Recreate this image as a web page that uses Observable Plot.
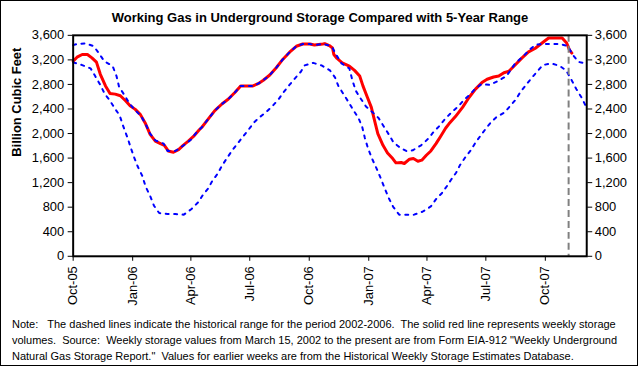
<!DOCTYPE html>
<html>
<head>
<meta charset="utf-8">
<script src="https://cdn.jsdelivr.net/npm/d3@7"></script>
<script src="https://cdn.jsdelivr.net/npm/@observablehq/plot@0.6"></script>
<style>
  html, body { margin: 0; padding: 0; background: #fff; }
  #wrap { position: relative; width: 638px; height: 366px; box-sizing: border-box; border: 1px solid #000; background: #fff; overflow: hidden; font-family: "Liberation Sans", Arial, sans-serif; }
  #title { position: absolute; left: 0; top: 9px; width: 638px; text-align: center; font-weight: bold; font-size: 13px; color: #000; }
  #chart { position: absolute; left: -1px; top: -1px; }
  #note { position: absolute; left: 11px; top: 315px; font-size: 11px; line-height: 16px; color: #000; white-space: pre; }
</style>
</head>
<body>
<div id="wrap">
  <div id="chart"></div>
  <div id="title">Working Gas in Underground Storage Compared with 5-Year Range</div>
  <div id="note"></div>
</div>
<script>
// ---- Data ----
const xTickLabels = ["Oct-05","Jan-06","Apr-06","Jul-06","Oct-06","Jan-07","Apr-07","Jul-07","Oct-07"];
const xTickDates = ["2005-10-01","2006-01-01","2006-04-01","2006-07-01","2006-10-01","2007-01-01","2007-04-01","2007-07-01","2007-10-01"];
const yTicks = [0,400,800,1200,1600,2000,2400,2800,3200,3600];
const xDomain = ["2005-10-01","2007-12-04"];
const currentWeekMarker = ["2007-11-06"];

const storageDates = ["2005-10-01","2005-10-07","2005-10-15","2005-10-23","2005-10-30","2005-11-06","2005-11-12","2005-11-20","2005-11-27","2005-12-05","2005-12-13","2005-12-21","2005-12-28","2006-01-05","2006-01-13","2006-01-21","2006-01-28","2006-02-05","2006-02-13","2006-02-19","2006-02-25","2006-03-05","2006-03-13","2006-03-20","2006-03-28","2006-04-05","2006-04-14","2006-04-18","2006-04-28","2006-05-08","2006-05-19","2006-05-29","2006-06-08","2006-06-17","2006-06-26","2006-07-06","2006-07-14","2006-07-22","2006-08-01","2006-08-11","2006-08-21","2006-09-01","2006-09-11","2006-09-21","2006-10-02","2006-10-09","2006-10-22","2006-10-25","2006-11-01","2006-11-06","2006-11-08","2006-11-13","2006-11-21","2006-12-02","2006-12-10","2006-12-18","2006-12-23","2006-12-30","2007-01-05","2007-01-10","2007-01-15","2007-01-23","2007-01-30","2007-02-07","2007-02-12","2007-02-20","2007-02-25","2007-03-05","2007-03-11","2007-03-18","2007-03-24","2007-03-31","2007-04-07","2007-04-15","2007-04-22","2007-04-30","2007-05-05","2007-05-15","2007-05-26","2007-06-05","2007-06-15","2007-06-25","2007-07-03","2007-07-13","2007-07-21","2007-07-29","2007-08-06","2007-08-16","2007-08-26","2007-09-05","2007-09-15","2007-09-26","2007-10-06","2007-10-16","2007-10-27","2007-11-03","2007-11-07","2007-11-11"];
const storageValues = [3180,3244,3288,3288,3233,3163,2965,2776,2652,2642,2615,2534,2453,2394,2308,2158,1985,1877,1835,1808,1716,1695,1738,1808,1877,1953,2061,2103,2239,2373,2481,2562,2668,2776,2776,2776,2813,2868,2954,3072,3207,3330,3422,3459,3459,3443,3459,3465,3433,3395,3288,3223,3152,3099,3029,2937,2776,2587,2426,2211,1997,1808,1684,1593,1522,1528,1512,1582,1593,1549,1566,1646,1716,1835,1953,2090,2158,2276,2426,2587,2723,2830,2884,2921,2937,2991,3018,3126,3233,3330,3385,3475,3556,3556,3556,3475,3368,3310];

const maxDates = ["2005-10-01","2005-10-07","2005-10-20","2005-11-02","2005-11-11","2005-11-18","2005-12-01","2005-12-07","2005-12-11","2005-12-19","2005-12-26","2006-01-03","2006-01-14","2006-01-22","2006-01-28","2006-02-05","2006-02-18","2006-02-24","2006-03-08","2006-03-21","2006-04-01","2006-04-10","2006-04-18","2006-04-28","2006-05-08","2006-05-19","2006-05-29","2006-06-08","2006-06-17","2006-06-26","2006-07-06","2006-07-14","2006-07-22","2006-08-01","2006-08-11","2006-08-21","2006-09-01","2006-09-11","2006-09-21","2006-10-02","2006-10-09","2006-10-22","2006-11-01","2006-11-06","2006-11-13","2006-11-20","2006-12-02","2006-12-07","2006-12-12","2006-12-20","2006-12-28","2007-01-07","2007-01-16","2007-01-25","2007-02-01","2007-02-08","2007-02-17","2007-02-28","2007-03-10","2007-03-23","2007-04-03","2007-04-11","2007-04-21","2007-04-29","2007-05-09","2007-05-19","2007-05-28","2007-06-06","2007-06-14","2007-06-24","2007-07-07","2007-07-20","2007-08-02","2007-08-15","2007-08-28","2007-09-07","2007-09-16","2007-09-28","2007-10-11","2007-10-24","2007-11-05","2007-11-12","2007-11-21","2007-11-28"];
const maxValues = [3440,3459,3470,3422,3288,3180,3099,2937,2760,2631,2507,2400,2287,2131,1997,1888,1835,1716,1716,1808,1900,2023,2103,2239,2373,2481,2562,2668,2776,2776,2776,2813,2868,2954,3072,3207,3330,3422,3459,3459,3443,3459,3433,3395,3261,3142,3060,2857,2696,2562,2437,2345,2255,2103,1985,1861,1780,1716,1727,1808,1916,2023,2131,2239,2345,2437,2545,2631,2723,2804,2792,2857,2937,3136,3261,3368,3449,3459,3459,3459,3422,3288,3168,3150];

const minDates = ["2005-10-01","2005-10-15","2005-10-28","2005-11-04","2005-11-12","2005-11-19","2005-11-27","2005-12-04","2005-12-12","2005-12-17","2005-12-24","2005-12-29","2006-01-03","2006-01-09","2006-01-16","2006-01-21","2006-01-28","2006-02-03","2006-02-11","2006-02-24","2006-03-08","2006-03-21","2006-04-02","2006-04-12","2006-04-19","2006-04-28","2006-05-04","2006-05-12","2006-05-19","2006-05-27","2006-06-04","2006-06-12","2006-06-20","2006-06-29","2006-07-08","2006-07-16","2006-07-26","2006-08-06","2006-08-14","2006-08-22","2006-08-31","2006-09-09","2006-09-18","2006-09-24","2006-10-07","2006-10-20","2006-11-02","2006-11-10","2006-11-15","2006-11-23","2006-12-01","2006-12-08","2006-12-16","2006-12-22","2006-12-26","2006-12-31","2007-01-06","2007-01-13","2007-01-20","2007-01-26","2007-02-01","2007-02-08","2007-02-17","2007-02-28","2007-03-12","2007-03-25","2007-04-07","2007-04-15","2007-04-24","2007-05-02","2007-05-08","2007-05-16","2007-05-22","2007-05-30","2007-06-07","2007-06-14","2007-06-22","2007-06-30","2007-07-09","2007-07-17","2007-07-30","2007-08-08","2007-08-16","2007-08-23","2007-09-02","2007-09-11","2007-09-20","2007-09-27","2007-10-10","2007-10-23","2007-11-02","2007-11-10","2007-11-18","2007-11-26","2007-12-03"];
const minValues = [3160,3115,3061,2937,2792,2642,2534,2416,2292,2131,1932,1771,1619,1458,1307,1135,985,823,705,689,689,678,770,877,990,1109,1227,1340,1474,1603,1727,1835,1942,2061,2184,2264,2345,2458,2550,2668,2787,2900,3007,3110,3152,3110,3029,2910,2776,2642,2507,2384,2255,2103,1926,1754,1593,1432,1259,1098,947,802,678,678,678,726,812,931,1028,1146,1243,1361,1485,1609,1716,1835,1953,2066,2184,2264,2345,2453,2550,2668,2804,2921,3029,3115,3142,3104,3029,2884,2723,2587,2437];

const yLabel = "Billion Cubic Feet";
const noteLines = [
  "Note:   The dashed lines indicate the historical range for the period 2002-2006.  The solid red line represents weekly storage",
  "volumes.  Source:  Weekly storage values from March 15, 2002 to the present are from Form EIA-912 \"Weekly Underground",
  "Natural Gas Storage Report.\"  Values for earlier weeks are from the Historical Weekly Storage Estimates Database."
];

// ---- Build tables ----
const parse = d3.utcParse("%Y-%m-%d");
const toRows = (dates, values) => dates.map((d, i) => ({date: parse(d), value: values[i]}));
const storage = toRows(storageDates, storageValues);
const maxRange = toRows(maxDates, maxValues);
const minRange = toRows(minDates, minValues);
const tickDates = xTickDates.map(parse);
const tickLabelOf = new Map(tickDates.map((d, i) => [+d, xTickLabels[i]]));

const chart = Plot.plot({
  width: 640,
  height: 312,
  marginTop: 35,
  marginBottom: 55,
  marginLeft: 73,
  marginRight: 51,
  style: {fontFamily: "'Liberation Sans', Arial, sans-serif", fontSize: "13px", color: "#000", background: "transparent"},
  x: {type: "utc", domain: xDomain.map(parse)},
  y: {domain: [0, 3600]},
  marks: [
    Plot.line(storage, {x: "date", y: "value", stroke: "#ff0000", strokeWidth: 3, curve: "linear"}),
    Plot.line(maxRange, {x: "date", y: "value", stroke: "#0000ff", strokeWidth: 2, strokeDasharray: "3,5.5"}),
    Plot.line(minRange, {x: "date", y: "value", stroke: "#0000ff", strokeWidth: 2, strokeDasharray: "3,5.5"}),
    Plot.ruleX(currentWeekMarker.map(parse), {stroke: "#808080", strokeWidth: 2, strokeDasharray: "7,4"}),
    Plot.frame({stroke: "#000", strokeWidth: 2}),
    Plot.axisY({ticks: yTicks, tickFormat: d3.format(","), tickSize: 5, tickPadding: 4, label: null}),
    Plot.axisY({anchor: "right", ticks: yTicks, tickFormat: d3.format(","), tickSize: 5, tickPadding: 3, label: null}),
    Plot.axisX({ticks: tickDates, tickFormat: d => tickLabelOf.get(+d), tickRotate: -90, tickSize: 5, tickPadding: 5, label: null}),
    Plot.text([yLabel], {frameAnchor: "left", dx: -57, dy: 11, rotate: -90, fontWeight: "bold", fontSize: 13, text: d => d})
  ]
});
document.getElementById("chart").appendChild(chart);
document.getElementById("note").textContent = noteLines.join("\n");
</script>
</body>
</html>
